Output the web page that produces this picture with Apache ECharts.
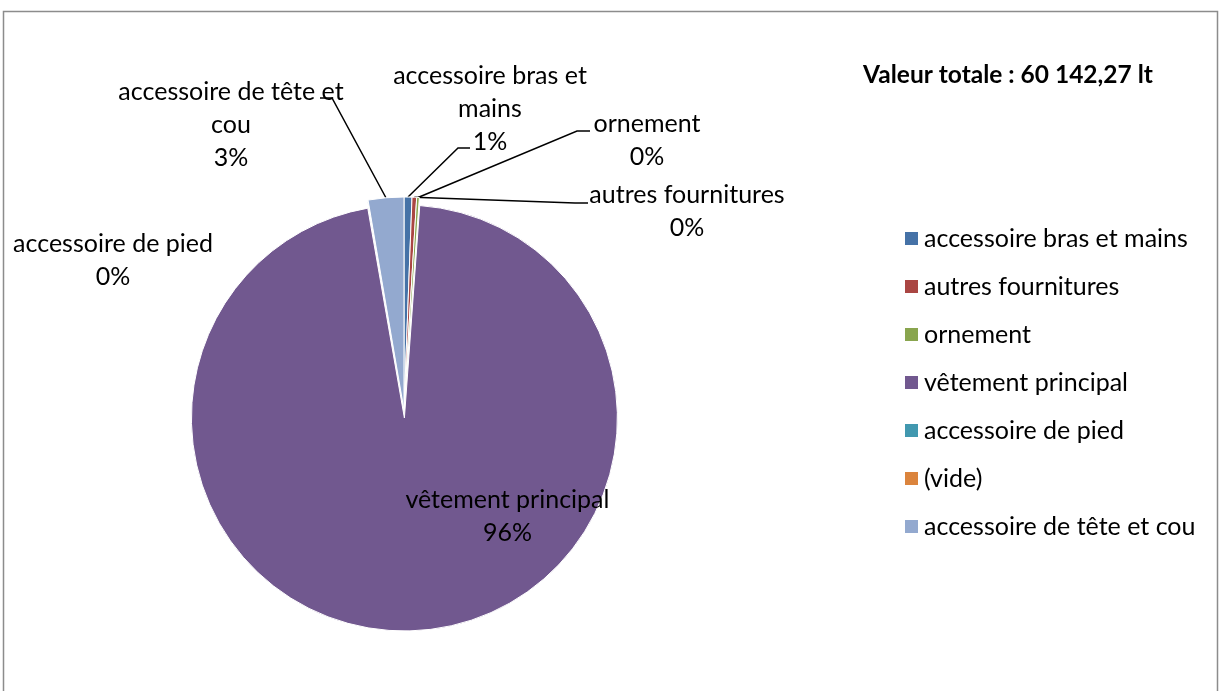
<!DOCTYPE html>
<html>
<head>
<meta charset="utf-8">
<script src="https://cdn.jsdelivr.net/npm/echarts@6/dist/echarts.min.js"></script>
<style>
  html, body { margin: 0; padding: 0; background: #fff; }
  #chart { width: 1221px; height: 691px; }
</style>
</head>
<body>
<div id="chart"></div>
<script>
// categories in clockwise order from 12 o'clock
const categories = ['accessoire bras et mains', 'autres fournitures', 'ornement', 'vêtement principal', 'accessoire de pied', '(vide)', 'accessoire de tête et cou']
const labelNames = ['accessoire bras et\nmains', 'autres fournitures', 'ornement', 'vêtement principal', 'accessoire de pied', '(vide)', 'accessoire de tête et\ncou']
const values = [361, 210, 120, 57797.27, 30, 0, 1624]
const totalText = 'Valeur totale : 60 142,27 lt'

const colors = ['#4572A7', '#AA4643', '#89A54E', '#71588F', '#4198AF', '#DB843D', '#93A9CF']
const font = 'Lato, "Open Sans", sans-serif'

// label placement (centre of text block) and leader elbows
const labelPos = [
  {x: 490, y: 109, line: [[458, 148], [470, 148]]},
  {x: 687, y: 211, line: [[575, 203], [588, 203]]},
  {x: 647, y: 140, line: [[577, 131], [590, 131]]},
  null,
  {x: 113, y: 260},
  null,
  {x: 231, y: 125, line: [[332, 98], [320, 98]]}
]
// the exploded slice keeps its label in the select state
const mainLabelOffset = [103, 98]

let chart = echarts.init(document.getElementById('chart'))
chart.setOption({
  color: colors,
  textStyle: { fontFamily: font },
  graphic: [
    {
      type: 'rect',
      shape: {x: 3.5, y: 11.5, width: 1214, height: 700},
      style: {fill: null, stroke: '#8c8c8c', lineWidth: 1.5},
      silent: true
    },
    {
      type: 'text',
      x: 1008, y: 75,
      style: {
        text: totalText, fill: '#000', font: 'bold 24.5px ' + font,
        textAlign: 'center', textVerticalAlign: 'middle'
      }
    }
  ],
  legend: {
    orient: 'vertical',
    left: 898,
    top: 221,
    itemWidth: 15,
    itemHeight: 15,
    itemGap: 23,
    icon: 'rect',
    textStyle: { fontSize: 25, lineHeight: 25, color: '#000', fontFamily: font },
    data: categories
  },
  series: [
    {
      type: 'pie',
      center: [404, 410],
      radius: 213,
      startAngle: 90,
      clockwise: true,
      percentPrecision: 0,
      selectedMode: 'single',
      selectedOffset: 8,
      avoidLabelOverlap: false,
      itemStyle: { borderColor: '#fff', borderWidth: 1 },
      emphasis: { scale: false },
      label: {
        show: true,
        color: '#000',
        fontSize: 25,
        lineHeight: 33,
        fontFamily: font,
        align: 'center',
        formatter: p => labelNames[p.dataIndex] + '\n' + p.percent + '%'
      },
      labelLine: { show: true, lineStyle: { color: '#000', width: 1.5 } },
      labelLayout: params => {
        const pos = labelPos[params.dataIndex]
        if (!pos) return {}
        const out = { x: pos.x, y: pos.y, align: 'center', verticalAlign: 'middle' }
        if (pos.line && params.labelLinePoints) {
          out.labelLinePoints = [params.labelLinePoints[0], pos.line[0], pos.line[1]]
        }
        return out
      },
      data: categories.map((name, i) => {
        const item = { name: name, value: values[i] }
        if (name === 'vêtement principal') {
          item.selected = true
          item.label = { position: 'inside', offset: mainLabelOffset }
          item.select = { label: { position: 'inside', offset: mainLabelOffset } }
          item.labelLine = { show: false }
        }
        if (name === 'accessoire de pied') item.labelLine = { show: false }
        if (name === '(vide)') { item.label = { show: false }; item.labelLine = { show: false } }
        return item
      })
    }
  ]
})
</script>
</body>
</html>
